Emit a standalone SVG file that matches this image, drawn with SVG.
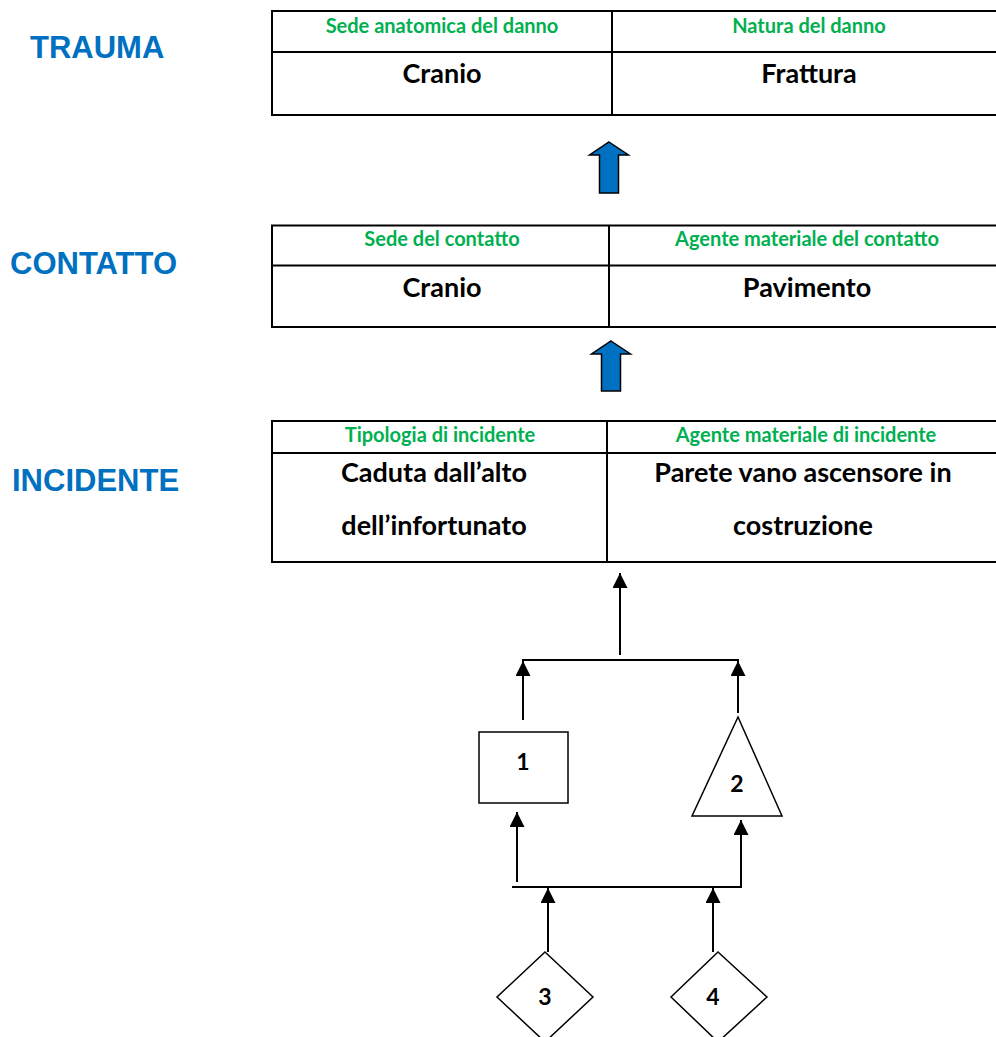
<svg xmlns="http://www.w3.org/2000/svg" width="996" height="1037" viewBox="0 0 996 1037">
<style>
.lbl{font-family:"Liberation Sans",Arial,sans-serif;font-weight:bold;font-size:31px;fill:#0070C0}
.hd{font-family:Lato,"Open Sans",sans-serif;font-weight:bold;font-size:20px;fill:#00B050;text-anchor:middle}
.mt{font-family:Lato,"Open Sans",sans-serif;font-weight:bold;font-size:27px;fill:#000;text-anchor:middle}
.num{font-family:Lato,"Open Sans",sans-serif;font-weight:bold;font-size:23px;fill:#000;text-anchor:middle}
.tl{stroke:#000;stroke-width:2;fill:none}
.shape{stroke:#000;stroke-width:1.5;fill:#fff}
.con{stroke:#000;stroke-width:2;fill:none}
.blue{fill:#0070C0;stroke:#000;stroke-width:1.5;stroke-linejoin:miter}
</style>
<defs>
<marker id="ah" viewBox="0 0 10 10" refX="10" refY="5" markerWidth="7.5" markerHeight="7.5" markerUnits="strokeWidth" orient="auto">
<path d="M0,0 L10,5 L0,10 Z" fill="#000"/>
</marker>
</defs>

<g id="label-trauma"><text class="lbl" x="30" y="58">TRAUMA</text></g>
<g id="label-contatto"><text class="lbl" x="10" y="274">CONTATTO</text></g>
<g id="label-incidente"><text class="lbl" x="12" y="491">INCIDENTE</text></g>

<g id="table-trauma">
<path class="tl" d="M271,11 H996 M271,52 H996 M271,115 H996 M272,11 V115 M612,11 V115"/>
<text class="hd" x="442" y="33">Sede anatomica del danno</text>
<text class="hd" x="809" y="33">Natura del danno</text>
<text class="mt" x="442" y="83">Cranio</text>
<text class="mt" x="809" y="83">Frattura</text>
</g>

<g id="table-contatto">
<path class="tl" d="M271,225.5 H996 M271,265.5 H996 M271,327 H996 M272,225.5 V327 M609,225.5 V327"/>
<text class="hd" x="442" y="246">Sede del contatto</text>
<text class="hd" x="807" y="246">Agente materiale del contatto</text>
<text class="mt" x="442" y="297">Cranio</text>
<text class="mt" x="807" y="297">Pavimento</text>
</g>

<g id="table-incidente">
<path class="tl" d="M271,421 H996 M271,453 H996 M271,562 H996 M272,421 V562 M607,421 V562"/>
<text class="hd" x="440" y="442">Tipologia di incidente</text>
<text class="hd" x="806" y="442">Agente materiale di incidente</text>
<text class="mt" x="434" y="482">Caduta dall’alto</text>
<text class="mt" x="434" y="535">dell’infortunato</text>
<text class="mt" x="803" y="482">Parete vano ascensore in</text>
<text class="mt" x="803" y="535">costruzione</text>
</g>

<g id="arrow-blue-1"><path class="blue" d="M609,142 L628.5,155 L618.5,155 L618.5,193 L599.5,193 L599.5,155 L589.5,155 Z"/></g>
<g id="arrow-blue-2"><path class="blue" d="M611,341 L630.5,354 L620.5,354 L620.5,391 L601.5,391 L601.5,354 L591.5,354 Z"/></g>

<g id="node-1"><rect class="shape" x="479" y="732" width="89" height="71"/><text class="num" x="523" y="770">1</text></g>
<g id="node-2"><path class="shape" d="M738,717 L782,816 L692,816 Z"/><text class="num" x="737" y="792">2</text></g>
<g id="node-3"><path class="shape" d="M545,952 L593,997 L545,1042 L497,997 Z"/><text class="num" x="545" y="1005">3</text></g>
<g id="node-4"><path class="shape" d="M718,952 L767,997 L718,1042 L671,997 Z"/><text class="num" x="713" y="1005">4</text></g>

<g id="connectors">
<path class="con" d="M620,655 V573" marker-end="url(#ah)"/>
<path class="con" d="M522,660 H739"/>
<path class="con" d="M523,720 V661" marker-end="url(#ah)"/>
<path class="con" d="M738,713 V661" marker-end="url(#ah)"/>
<path class="con" d="M517,882 V812" marker-end="url(#ah)"/>
<path class="con" d="M512,887 H741 V820" marker-end="url(#ah)"/>
<path class="con" d="M548,952 V888" marker-end="url(#ah)"/>
<path class="con" d="M713,952 V888" marker-end="url(#ah)"/>
</g>
</svg>
